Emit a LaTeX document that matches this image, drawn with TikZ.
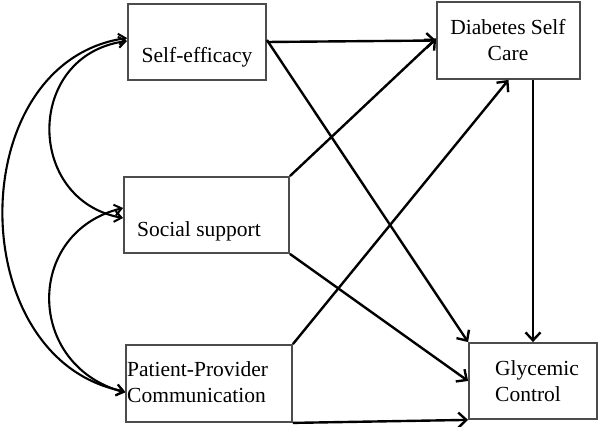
\documentclass[tikz,border=0pt]{standalone}
\usepackage{fontspec}
\setmainfont{Liberation Serif}
\usetikzlibrary{arrows.meta}
\begin{document}
\begin{tikzpicture}[x=1pt,y=-1pt,
  box/.style={draw=black!70,line width=1.8pt,rectangle,inner sep=0pt},
  lbl/.style={font=\fontsize{21.5}{26}\selectfont,inner sep=0pt,align=center},
  path/.style={line width=2.4pt,-{Straight Barb[length=8pt,width=15pt,line width=2.4pt]}},
  corr/.style={line width=2.1pt,{Straight Barb[length=7pt,width=11pt,line width=2pt]}-{Straight Barb[length=7pt,width=11pt,line width=2pt]}}]
\useasboundingbox (0,0) rectangle (600,427);
\node[box,minimum width=138pt,minimum height=76pt] (se) at (197,42) {};
\node[box,minimum width=165pt,minimum height=76pt] (ss) at (206.5,215) {};
\node[box,minimum width=166pt,minimum height=77pt] (pp) at (209,383.5) {};
\node[box,minimum width=143pt,minimum height=77pt] (dsc) at (508.5,40.5) {};
\node[box,minimum width=128pt,minimum height=76pt] (gc) at (533,381) {};
\node[lbl,anchor=base] (set) at (197,63) {Self-efficacy};
\node[lbl,anchor=base west] (sst) at (137,237) {Social support};
\node[lbl,anchor=base west,align=left] (ppt) at (127,403) {Patient-Provider\\Communication};
\node[lbl,anchor=base] (dsct) at (508,61) {Diabetes Self\\Care};
\node[lbl,anchor=base west,align=left] (gct) at (495,402) {Glycemic\\ Control};
% paths
\draw[path] (se.east) -- (dsc.west);
\draw[path] ([yshift=2pt]se.east) -- (gc.north west);
\draw[path] (ss.north east) -- ([yshift=2pt]dsc.west);
\draw[path] (ss.south east) -- (gc.west);
\draw[path] (pp.north east) -- (dsc.south);
\draw[path] (pp.south east) -- (gc.south west);
\draw[path] (gc.north |- dsc.south) -- (gc.north);
% correlations
\draw[corr] ([yshift=1pt]se.west) .. controls (25,55) and (25,200) .. ([yshift=-3pt]ss.west);
\draw[corr] ([yshift=4pt]se.west) .. controls (-38,62) and (-38,360) .. ([yshift=-8pt]pp.west);
\draw[corr] ([yshift=7pt]ss.west) .. controls (25,232) and (25,365) .. ([yshift=-9pt]pp.west);
\end{tikzpicture}
\end{document}
